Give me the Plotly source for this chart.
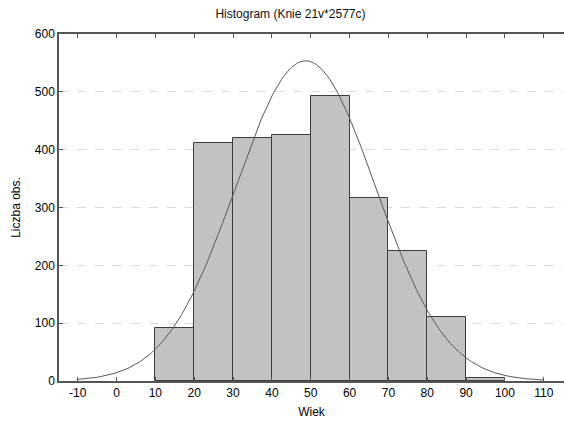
import numpy as np
import plotly.graph_objects as go

# Age bins (lower edges, width 10) and observed counts
bin_starts = [10, 20, 30, 40, 50, 60, 70, 80, 90]
counts = [92, 412, 421, 426, 492, 316, 224, 110, 5]
bin_width = 10

# Fitted normal distribution parameters
fit_mean = 48.7
fit_sd = 18.0

x_ticks = [-10, 0, 10, 20, 30, 40, 50, 60, 70, 80, 90, 100, 110]
y_ticks = [0, 100, 200, 300, 400, 500, 600]

mids = [s + bin_width / 2 for s in bin_starts]
n_total = sum(counts)

xs = np.linspace(-10, 110, 400)
ys = n_total * bin_width / (fit_sd * np.sqrt(2 * np.pi)) * np.exp(-0.5 * ((xs - fit_mean) / fit_sd) ** 2)

fig = go.Figure()
fig.add_trace(go.Bar(
    x=mids, y=counts, width=bin_width,
    marker=dict(color="#c2c2c2", line=dict(color="#3c3c3c", width=1)),
    hoverinfo="x+y",
))
fig.add_trace(go.Scatter(
    x=xs, y=ys, mode="lines",
    line=dict(color="#5a5a5a", width=1),
))

font_family = "Liberation Sans, Arial, sans-serif"
fig.update_layout(
    width=564, height=422,
    margin=dict(l=59, r=0, t=34, b=41),
    plot_bgcolor="white", paper_bgcolor="white",
    showlegend=False,
    bargap=0,
    font=dict(family=font_family, size=12, color="black"),
    title=dict(text="Histogram (Knie 21v*2577c)", x=0.515, xanchor="center",
               y=0.967, yanchor="middle", font=dict(size=12, color="#111")),
)
fig.update_xaxes(
    range=[-14.8, 115.2], tickvals=x_ticks, ticktext=[str(v) for v in x_ticks],
    tickfont=dict(color="black"), automargin=False,
    showgrid=False, zeroline=False,
    showline=True, linecolor="#555", linewidth=1.5, mirror="ticks",
    ticks="inside", ticklen=4, tickcolor="#555",
    title=dict(text="Wiek", standoff=8, font=dict(size=12)),
)
# The right-hand frame edge falls outside the visible page, so only the
# left axis line is drawn.
fig.update_yaxes(
    range=[0, 600], tickvals=y_ticks,
    tickfont=dict(color="black"), automargin=False,
    showgrid=True, gridcolor="#dcdcdc", griddash="dash", gridwidth=1,
    zeroline=False,
    showline=True, linecolor="#555", linewidth=1.5, mirror=False,
    ticks="inside", ticklen=4, tickcolor="#555",
    title=dict(text="Liczba obs.", standoff=12, font=dict(size=12)),
)

fig.write_html("out.html")
